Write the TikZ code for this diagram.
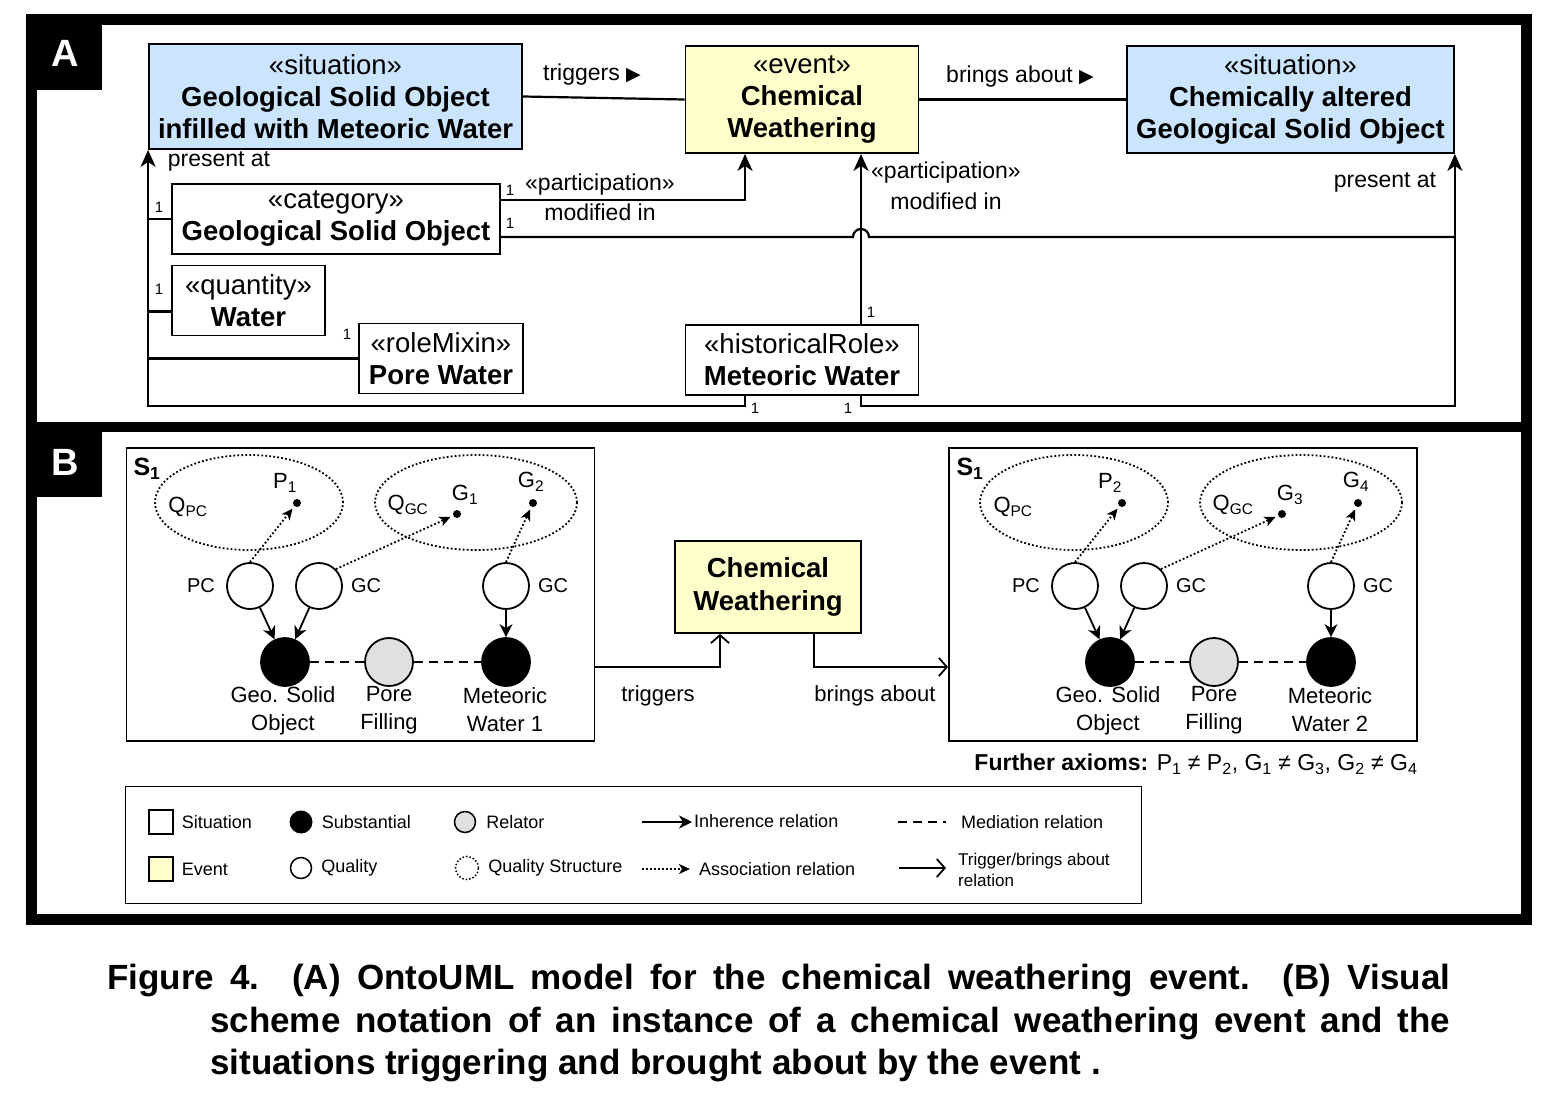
\documentclass[tikz,border=0pt]{standalone}
\usepackage{fontspec}
\setmainfont{Liberation Sans}
\newfontfamily\symfont{DejaVu Sans}
\usetikzlibrary{arrows.meta,calc,positioning,shapes.geometric}
\definecolor{sitblue}{RGB}{204,229,255}
\definecolor{evyellow}{RGB}{255,255,204}
\definecolor{relgrey}{RGB}{224,224,224}
\newcommand{\fsz}[2]{\fontsize{#1}{#2}\selectfont}

\begin{document}
\begin{tikzpicture}[x=1pt,y=-1pt,
    every node/.style={inner sep=0pt,font=\fsz{22}{28}},
    uml/.style={draw,line width=1.8pt,align=center,font=\fsz{27.5}{32},execute at begin node={\rule{0pt}{26pt}}},
    lbl/.style={font=\fsz{23}{28}},
    mult/.style={font=\fsz{15}{15}},
    assoc/.style={line width=2.2pt},
    umlarrow/.style={assoc,-{Stealth[length=17pt,width=15pt,inset=5pt]}},
    sitbox/.style={draw,line width=1.8pt},
    quality/.style={circle,draw,line width=1.8pt,fill=white,minimum size=46pt},
    substantial/.style={circle,draw,line width=1.8pt,fill=black,minimum size=48pt},
    relator/.style={circle,draw,line width=1.8pt,fill=relgrey,minimum size=48pt},
    qstruct/.style={ellipse,draw,line width=1.8pt,dash pattern=on 1.8pt off 2.2pt},
    val/.style={circle,fill=black,minimum size=8pt},
    inhere/.style={line width=1.8pt,-{Stealth[length=13pt,width=13pt,inset=4pt]}},
    associate/.style={line width=1.8pt,dash pattern=on 1.8pt off 2.2pt,-{Stealth[length=11pt,width=10pt,inset=3pt]},shorten >=3pt},
    trigger/.style={line width=1.8pt,-{Straight Barb[length=8pt,width=18pt]}},
    mediate/.style={line width=1.8pt,dash pattern=on 9pt off 6pt},
    key/.style={font=\fsz{18}{22}}]
    \useasboundingbox (0,0) rectangle (1552,1108);
    \draw[line width=11pt] (31.5,20) rectangle (1526.5,919);
    \draw[line width=10pt] (31.5,427) -- (1526.5,427);
    \fill (26,15) rectangle (102,90);
    \fill (26,427) rectangle (102,497);
    \node[white,font=\bfseries\fsz{38}{38}] (partA) at (65,53) {A};
    \node[white,font=\bfseries\fsz{38}{38}] (partB) at (65,462) {B};
    % A: OntoUML model
    \node[uml,fill=sitblue,minimum width=373pt,minimum height=105pt] (sit1) at (335.5,96.5) {«situation»\\\textbf{Geological Solid Object}\\\textbf{infilled with Meteoric Water}};
    \node[uml,fill=evyellow,minimum width=233pt,minimum height=107pt] (cw) at (802,99.5) {«event»\\\textbf{Chemical}\\\textbf{Weathering}};
    \node[uml,fill=sitblue,minimum width=327pt,minimum height=107pt] (sit2) at (1290.5,99.5) {«situation»\\\textbf{Chemically altered}\\\textbf{Geological Solid Object}};
    \node[uml,minimum width=328pt,minimum height=70pt] (gso) at (336,219) {«category»\\\textbf{Geological Solid Object}};
    \node[uml,minimum width=153pt,minimum height=70pt] (water) at (248.5,300.5) {«quantity»\\\textbf{Water}};
    \node[uml,minimum width=164pt,minimum height=70pt] (pore) at (441,358.5) {«roleMixin»\\\textbf{Pore Water}};
    \node[uml,minimum width=233pt,minimum height=70pt] (mw) at (802,360) {«historicalRole»\\\textbf{Meteoric Water}};
    \coordinate (mwL) at ($(mw.south)+(-57,0)$);
    \coordinate (mwR) at ($(mw.south)+(59,0)$);
    \coordinate (gsoB) at ($(gso.east)+(0,18)$);
    \draw[assoc] (sit1.east) -- (cw.west);
    \node[lbl] (trigA) at (592,75) {triggers {\symfont\fsz{19}{19}▶}};
    \draw[assoc] (cw.east) -- (sit2.west);
    \node[lbl] (bringA) at (1020,77) {brings about {\symfont\fsz{19}{19}▶}};
    \draw[umlarrow] (mwL) -- ++(0,10) -| (sit1.south west);
    \node[lbl] (presA) at (219,161) {present at};
    \draw[assoc] (gso.west) -- (gso.west -| sit1.south west);
    \draw[assoc] ($(water.west)+(0,11)$) -- ($(water.west -| sit1.south west)+(0,11)$);
    \draw[assoc] (pore.west) -- (pore.west -| sit1.south west);
    \node[mult] (m1) at (159,207) {1};
    \node[mult] (m2) at (159,289) {1};
    \node[mult] (m3) at (347,334) {1};
    \node[mult] (m4) at (755,408) {1};
    \draw[umlarrow] ($(gso.north east)+(0,17)$) -| (mwL |- cw.south);
    \node[mult] (m5) at (510,190) {1};
    \node[lbl] (partA1) at (600,185) {«participation»};
    \node[lbl] (modA1) at (600,212) {modified in};
    \draw[assoc] (gsoB) -- ($(mwR |- gsoB)+(-8,0)$) arc (180:0:8pt) -- (sit2.south east |- gsoB);
    \node[mult] (m6) at (510,223) {1};
    \draw[umlarrow] (mwR |- mw.north) -- (mwR |- cw.south);
    \node[mult] (m7) at (871,312) {1};
    \node[lbl] (partA2) at (946,173) {«participation»};
    \node[lbl] (modA2) at (946,201) {modified in};
    \draw[umlarrow] (mwR) -- ++(0,10) -| (sit2.south east);
    \node[mult] (m8) at (848,408) {1};
    \node[lbl] (presB) at (1385,182) {present at};
    % B: visual scheme
    \node[sitbox,minimum width=468pt,minimum height=293pt] (s1L) at (360.5,594.5) {};
    \node[sitbox,minimum width=468pt,minimum height=293pt] (s1R) at (1183,594.5) {};
    \node[qstruct,minimum width=188pt,minimum height=95pt] (qpcL) at (249,502.5) {};
    \node[qstruct,minimum width=202pt,minimum height=95pt] (qgcL) at (476,502.5) {};
    \node[font=\bfseries\fsz{25}{25}] (sL) at (147,469) {S\textsubscript{1}};
    \node (lqpcL) at (188,507) {Q\textsubscript{PC}};
    \node (lpL) at (285,483) {P\textsubscript{1}};
    \node[val] (pL) at (297,503) {};
    \node (lqgcL) at (408,505) {Q\textsubscript{GC}};
    \node (lg1L) at (465,495) {G\textsubscript{1}};
    \node[val] (g1L) at (457,514) {};
    \node (lg2L) at (531,482) {G\textsubscript{2}};
    \node[val] (g2L) at (533,503) {};
    \node[quality] (pcL) at (250,586) {};
    \node[quality] (gcL) at (319,586) {};
    \node[quality] (gcmL) at (506,586) {};
    \node[left=11pt of pcL,font=\fsz{20}{20}] (lpcL) {PC};
    \node[right=8pt of gcL,font=\fsz{20}{20}] (lgcL) {GC};
    \node[right=8pt of gcmL,font=\fsz{20}{20}] (lgcmL) {GC};
    \node[substantial] (geoL) at (285,662) {};
    \node[relator] (fillL) at (389,662) {};
    \node[substantial] (metL) at (506,662) {};
    \node[align=center] (lgeoL) at (283,711) {Geo. Solid\\Object};
    \node[align=center] (lfillL) at (389,710) {Pore\\Filling};
    \node[align=center] (lmetL) at (505,710) {Meteoric\\Water 1};
    \draw[associate] (pcL.north) -- (pL);
    \draw[associate] (gcL.north east) -- (g1L);
    \draw[associate] (gcmL.north) -- (g2L);
    \draw[inhere] (pcL) -- (geoL);
    \draw[inhere] (gcL) -- (geoL);
    \draw[inhere] (gcmL) -- (metL);
    \draw[mediate] (geoL) -- (fillL) -- (metL);
    \begin{scope}[xshift=825pt]
    \node[qstruct,minimum width=188pt,minimum height=95pt] (qpcR) at (249,502.5) {};
    \node[qstruct,minimum width=202pt,minimum height=95pt] (qgcR) at (476,502.5) {};
    \node[font=\bfseries\fsz{25}{25}] (sR) at (145,469) {S\textsubscript{1}};
    \node (lqpcR) at (188,507) {Q\textsubscript{PC}};
    \node (lpR) at (285,483) {P\textsubscript{2}};
    \node[val] (pR) at (297,503) {};
    \node (lqgcR) at (408,505) {Q\textsubscript{GC}};
    \node (lg1R) at (465,495) {G\textsubscript{3}};
    \node[val] (g1R) at (457,514) {};
    \node (lg2R) at (531,482) {G\textsubscript{4}};
    \node[val] (g2R) at (533,503) {};
    \node[quality] (pcR) at (250,586) {};
    \node[quality] (gcR) at (319,586) {};
    \node[quality] (gcmR) at (506,586) {};
    \node[left=11pt of pcR,font=\fsz{20}{20}] (lpcR) {PC};
    \node[right=8pt of gcR,font=\fsz{20}{20}] (lgcR) {GC};
    \node[right=8pt of gcmR,font=\fsz{20}{20}] (lgcmR) {GC};
    \node[substantial] (geoR) at (285,662) {};
    \node[relator] (fillR) at (389,662) {};
    \node[substantial] (metR) at (506,662) {};
    \node[align=center] (lgeoR) at (283,711) {Geo. Solid\\Object};
    \node[align=center] (lfillR) at (389,710) {Pore\\Filling};
    \node[align=center] (lmetR) at (505,710) {Meteoric\\Water 2};
    \end{scope}
    \draw[associate] (pcR.north) -- (pR);
    \draw[associate] (gcR.north east) -- (g1R);
    \draw[associate] (gcmR.north) -- (g2R);
    \draw[inhere] (pcR) -- (geoR);
    \draw[inhere] (gcR) -- (geoR);
    \draw[inhere] (gcmR) -- (metR);
    \draw[mediate] (geoR) -- (fillR) -- (metR);
    \node[draw,line width=1.8pt,fill=evyellow,minimum width=186pt,minimum height=92pt,align=center,font=\bfseries\fsz{27.5}{33}] (cwB) at (768,587) {Chemical\\Weathering};
    \draw[trigger] ($(s1L.east)+(0,72.5)$) -| ($(cwB.south)+(-48,0)$);
    \node (trigB) at (658,696) {triggers};
    \draw[trigger] ($(cwB.south)+(46,0)$) |- ($(s1R.west)+(0,72.5)$);
    \node (bringB) at (875,696) {brings about};
    \node[font=\fsz{23}{28}] (axioms) at (1196,764) {\textbf{Further axioms:} P\textsubscript{1} ≠ P\textsubscript{2}, G\textsubscript{1} ≠ G\textsubscript{3}, G\textsubscript{2} ≠ G\textsubscript{4}};
    % legend
    \node[draw,line width=1.8pt,minimum width=1016pt,minimum height=117pt] (legend) at (633.5,845) {};
    \node[draw,line width=1.5pt,minimum size=24pt] (kSit) at (161,822) {};
    \node[key,right=8pt of kSit] (tSit) {Situation};
    \node[draw,line width=1.5pt,fill=evyellow,minimum size=24pt] (kEv) at (161,869) {};
    \node[key,right=8pt of kEv] (tEv) {Event};
    \node[circle,fill=black,minimum size=23pt] (kSub) at (301,822) {};
    \node[key,right=9pt of kSub] (tSub) {Substantial};
    \node[circle,draw,line width=1.5pt,minimum size=21pt] (kQual) at (301,868) {};
    \node[key,right=9pt of kQual] (tQual) {Quality};
    \node[circle,draw,line width=1.5pt,fill=relgrey,minimum size=21pt] (kRel) at (465,822) {};
    \node[key,right=10pt of kRel] (tRel) {Relator};
    \node[circle,draw,line width=1.5pt,dash pattern=on 1.5pt off 2pt,minimum size=23pt] (kQS) at (467,868) {};
    \node[key,right=9pt of kQS] (tQS) {Quality Structure};
    \coordinate (kInhA) at (642,822);
    \coordinate (kInhB) at (692,822);
    \draw[inhere] (kInhA) -- (kInhB);
    \node[key,anchor=west] (tInh) at (694,821) {Inherence relation};
    \coordinate (kAssA) at (642,869);
    \coordinate (kAssB) at (690,869);
    \draw[associate,shorten >=0pt] (kAssA) -- (kAssB);
    \node[key,anchor=west] (tAss) at (699,869) {Association relation};
    \coordinate (kMedA) at (898,822);
    \coordinate (kMedB) at (946,822);
    \draw[mediate] (kMedA) -- (kMedB);
    \node[key,anchor=west] (tMed) at (961,822) {Mediation relation};
    \coordinate (kTrA) at (899,868);
    \coordinate (kTrB) at (946,868);
    \draw[trigger] (kTrA) -- (kTrB);
    \node[key,anchor=west,align=left,font=\fsz{17}{21}] (tTr) at (958,870) {Trigger/brings about\\relation};
    % caption
    \node[anchor=north west,font=\bfseries\fsz{35}{42.5}] (caption) at (107,964) {\parbox[t]{1343pt}{\hangindent=103pt\hangafter=1 Figure 4.~~(A) OntoUML model for the chemical weathering event.~~(B) Visual\linebreak scheme notation of an instance of a chemical weathering event and the\linebreak situations triggering and brought about by the event .}};
\end{tikzpicture}
\end{document}
